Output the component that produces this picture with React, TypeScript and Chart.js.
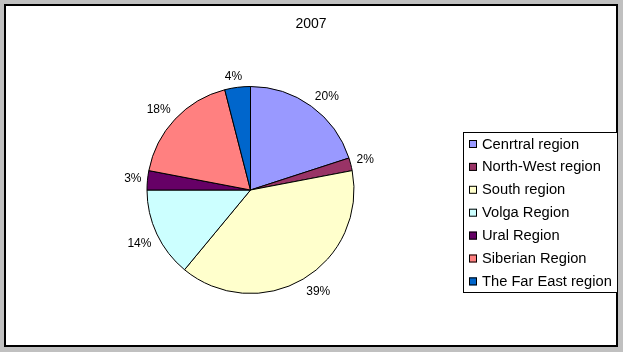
import React, { useEffect, useRef } from "react";
import { Chart, registerables } from "chart.js";

Chart.register(...registerables);

const title = "2007";
const categories = [
  "Cenrtral region",
  "North-West region",
  "South region",
  "Volga Region",
  "Ural Region",
  "Siberian Region",
  "The Far East region",
];
const shares = [20, 2, 39, 14, 3, 18, 4];
const colors = ["#9999FF", "#993366", "#FFFFCC", "#CCFFFF", "#660066", "#FF8080", "#0066CC"];

const FONT = "Arial, 'Liberation Sans', sans-serif";

const clamp = (v: number) => Math.max(-1, Math.min(1, v));

const framePlugin = {
  id: "frame",
  beforeDraw(chart: any) {
    const ctx = chart.ctx;
    const W = chart.width;
    const H = chart.height;
    ctx.save();
    ctx.fillStyle = "#c0c0c0";
    ctx.fillRect(0, 0, W, H);
    ctx.fillStyle = "#ffffff";
    ctx.fillRect(5, 5, 612, 341);
    ctx.strokeStyle = "#000000";
    ctx.lineWidth = 2;
    ctx.strokeRect(5, 5, 612, 341);
    ctx.fillStyle = "#000000";
    ctx.font = `14px ${FONT}`;
    ctx.textAlign = "center";
    ctx.textBaseline = "middle";
    ctx.fillText(title, 311, 24);
    ctx.restore();
  },
  afterDraw(chart: any) {
    const ctx = chart.ctx;
    const meta = chart.getDatasetMeta(0);
    ctx.save();
    ctx.font = `12px ${FONT}`;
    ctx.fillStyle = "#000000";
    ctx.textAlign = "center";
    ctx.textBaseline = "middle";
    meta.data.forEach((arc: any, i: number) => {
      const mid = (arc.startAngle + arc.endAngle) / 2;
      const txt = shares[i] + "%";
      const hw = ctx.measureText(txt).width / 2;
      const hh = 6;
      const dx = Math.cos(mid);
      const dy = Math.sin(mid);
      const d = arc.outerRadius + 6;
      const x = arc.x + dx * d + hw * clamp(dx * 3);
      const y = arc.y + dy * d + hh * clamp(dy * 3) + 1;
      ctx.fillText(txt, x, y);
    });
    // legend
    const lx = 463, ly = 132, lw = 154, lh = 160;
    ctx.fillStyle = "#ffffff";
    ctx.fillRect(lx, ly, lw, lh);
    ctx.strokeStyle = "#000000";
    ctx.lineWidth = 1;
    ctx.strokeRect(lx + 0.5, ly + 0.5, lw, lh);
    ctx.font = `14.7px ${FONT}`;
    ctx.textAlign = "left";
    categories.forEach((name, i) => {
      const y = 144 + i * 22.9;
      ctx.fillStyle = colors[i];
      ctx.fillRect(469, y - 4, 8, 8);
      ctx.strokeStyle = "#000000";
      ctx.strokeRect(469.5, y - 3.5, 7, 7);
      ctx.fillStyle = "#000000";
      ctx.fillText(name, 482, y + 0.5);
    });
    ctx.restore();
  },
};

export default function App() {
  const ref = useRef<HTMLCanvasElement>(null);
  useEffect(() => {
    document.body.style.margin = "0";
    const chart = new Chart(ref.current!, {
      type: "pie",
      data: {
        labels: categories,
        datasets: [
          {
            data: shares,
            backgroundColor: colors,
            borderColor: "#000000",
            borderWidth: 1,
          },
        ],
      },
      options: {
        animation: false,
        responsive: false,
        events: [],
        layout: { padding: { left: 146, right: 268, top: 86, bottom: 58 } },
        plugins: {
          legend: { display: false },
          title: { display: false },
          tooltip: { enabled: false },
        },
      },
      plugins: [framePlugin],
    });
    return () => chart.destroy();
  }, []);
  return <canvas ref={ref} width={623} height={352} style={{ display: "block" }} />;
}
